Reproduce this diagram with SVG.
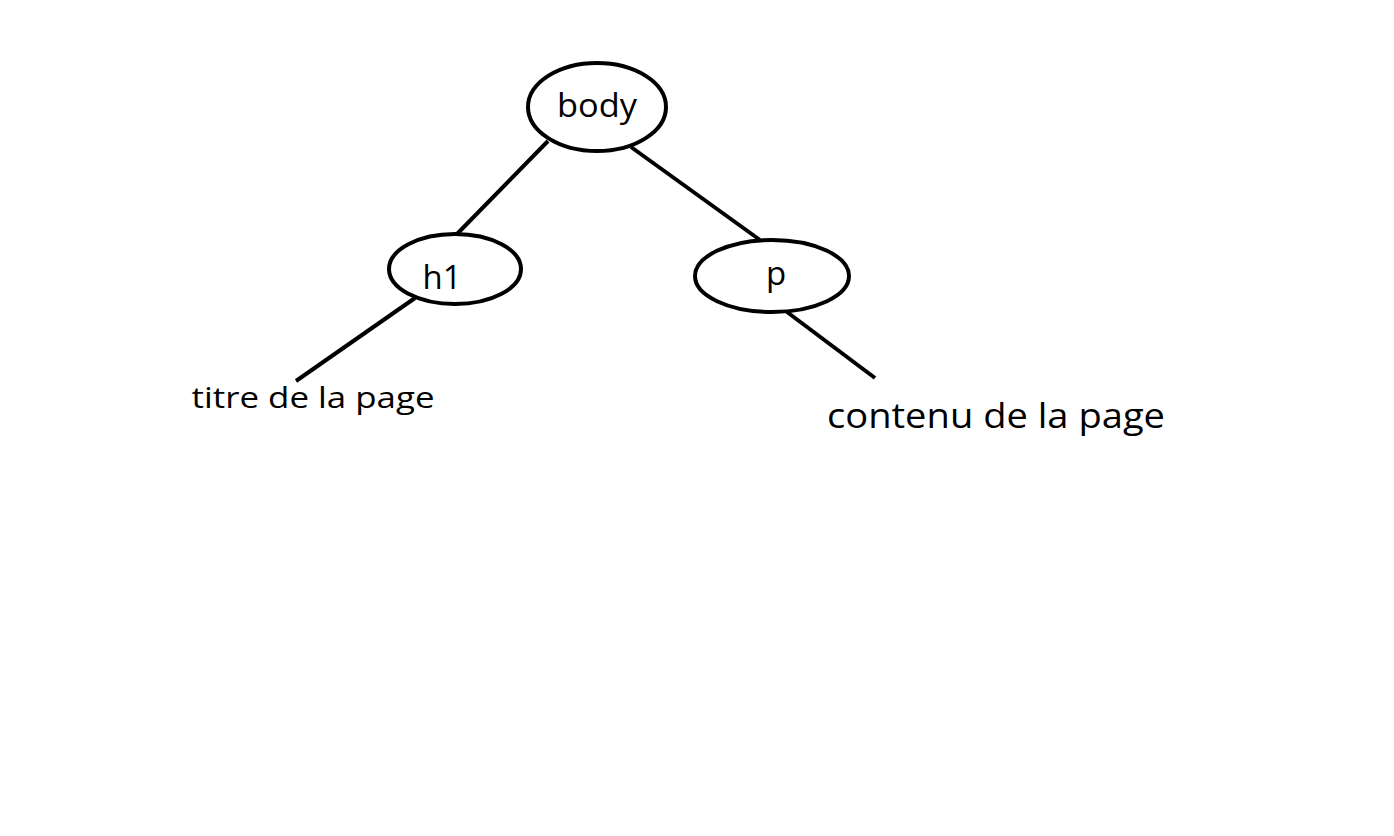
<svg xmlns="http://www.w3.org/2000/svg" width="1394" height="836" viewBox="0 0 1394 836">
<style>
.n{fill:#fff;stroke:#000;stroke-width:4}
.t{font-family:"Open Sans","Noto Sans",sans-serif;fill:#000;text-anchor:middle}
.c line{stroke:#000;stroke-width:4}
</style>
<rect width="1394" height="836" fill="#fff"/>
<g class="c" id="connectors">
<line x1="548" y1="141" x2="457" y2="234"/>
<line x1="631" y1="147" x2="760" y2="240"/>
<line x1="415" y1="298" x2="296" y2="381"/>
<line x1="787" y1="312" x2="875" y2="378"/>
</g>
<g id="body"><ellipse class="n" cx="597" cy="107" rx="69" ry="44"/><text class="t" x="597" y="117" font-size="33" textLength="80" lengthAdjust="spacingAndGlyphs">body</text></g>
<g id="h1"><ellipse class="n" cx="455" cy="269" rx="66" ry="35"/><text class="t" x="442" y="289" font-size="33" textLength="39" lengthAdjust="spacingAndGlyphs">h1</text></g>
<g id="p"><ellipse class="n" cx="772" cy="276" rx="77" ry="36"/><text class="t" x="776" y="285" font-size="33">p</text></g>
<g id="titre"><text class="t" x="313" y="408" font-size="30" textLength="243" lengthAdjust="spacingAndGlyphs">titre de la page</text></g>
<g id="contenu"><text class="t" x="996" y="428" font-size="34" textLength="338" lengthAdjust="spacingAndGlyphs">contenu de la page</text></g>
</svg>
